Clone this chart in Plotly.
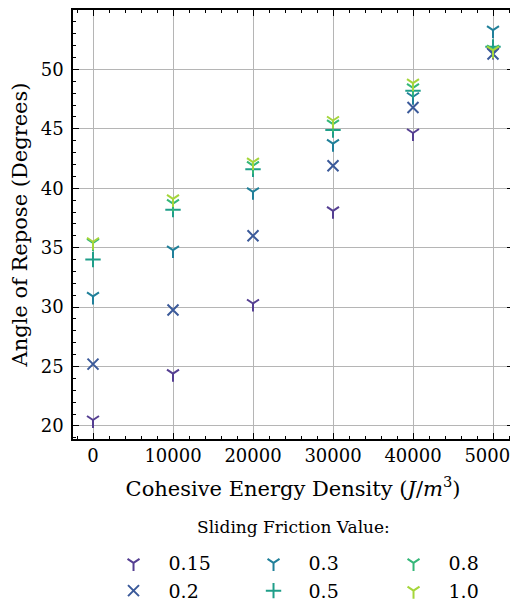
import plotly.graph_objects as go

energy = [0, 10000, 20000, 30000, 40000, 50000]
friction_labels = ["0.15", "0.2", "0.3", "0.5", "0.8", "1.0"]
angle_015 = [20.5, 24.4, 30.3, 38.1, 44.65, 51.5]
angle_02 = [25.2, 29.75, 36.0, 41.9, 46.8, 51.3]
angle_03 = [30.9, 34.8, 39.7, 43.75, 47.7, 53.3]
angle_05 = [34.0, 38.2, 41.6, 44.9, 48.2, 51.9]
angle_08 = [35.4, 38.7, 41.9, 45.4, 48.45, 51.7]
angle_10 = [35.5, 39.1, 42.2, 45.7, 48.85, 51.6]
x_ticks = [0, 10000, 20000, 30000, 40000, 50000]
y_ticks = [20, 25, 30, 35, 40, 45, 50]

series = [angle_015, angle_02, angle_03, angle_05, angle_08, angle_10]
colors = ["#553f92", "#3b5a9a", "#21809a", "#1f9e89", "#35b779", "#a5d63a"]
symbols = ["y-down", "x-thin", "y-down", "cross-thin", "y-down", "y-down"]
sizes = [10, 11, 10, 11, 10, 10]
# row-wise ranks so that legend reads column-major (3 columns x 2 rows)
ranks = [1, 4, 2, 5, 3, 6]

FONT = "DejaVu Serif"

fig = go.Figure()
for lab, vals, c, s, sz, rk in zip(friction_labels, series, colors, symbols, sizes, ranks):
    fig.add_trace(go.Scatter(
        x=energy, y=vals, mode="markers", name=lab, legendrank=rk,
        marker=dict(symbol=s, size=sz, color=c, line=dict(color=c, width=2)),
    ))

axis_common = dict(
    showline=True, linecolor="black", linewidth=1.5, mirror="allticks",
    ticks="inside", ticklen=6, tickwidth=1.2, tickcolor="black",
    showgrid=True, gridcolor="#b5b5b5", gridwidth=1, automargin=False,
    zeroline=False, tickfont=dict(family=FONT, size=18, color="black"),
    ticklabeloverflow="allow",
)

fig.update_xaxes(
    range=[-2500, 52500], tickmode="array", tickvals=x_ticks,
    ticktext=[str(v) for v in x_ticks], ticklabelstandoff=0,
    minor=dict(dtick=2000, tick0=0, ticks="inside", ticklen=3, tickcolor="black", showgrid=False),
    title=dict(text="Cohesive Energy Density (<i>J</i>/<i>m</i><sup>3</sup>)",
               font=dict(family=FONT, size=21, color="black"), standoff=16),
    **axis_common,
)
fig.update_yaxes(
    range=[18.9, 55], tickmode="array", tickvals=y_ticks,
    ticktext=[str(v) for v in y_ticks], ticklabelstandoff=4,
    minor=dict(dtick=1, tick0=20, ticks="inside", ticklen=3, tickcolor="black", showgrid=False),
    title=dict(text="Angle of Repose (Degrees)",
               font=dict(family=FONT, size=21, color="black"), standoff=12),
    **axis_common,
)

fig.add_annotation(
    text="<span style='font-family:DejaVu Serif'>Sliding Friction Value:</span>",
    x=0.5, y=-0.205, xref="paper", yref="paper",
    xanchor="center", yanchor="middle", showarrow=False,
    font=dict(family=FONT, size=17, color="black"),
)

fig.update_layout(
    width=510, height=599,
    margin=dict(l=65, r=5, t=2, b=168, autoexpand=False),
    plot_bgcolor="white", paper_bgcolor="white",
    font=dict(family=FONT, size=18, color="black"),
    legend=dict(
        orientation="h", x=0.058, xanchor="left",
        y=-0.245, yanchor="top",
        itemwidth=60,
        entrywidth=65, entrywidthmode="pixels",
        font=dict(family=FONT, size=19, color="black"),
        bgcolor="rgba(0,0,0,0)", tracegroupgap=0,
    ),
)

fig.write_html("out.html")
